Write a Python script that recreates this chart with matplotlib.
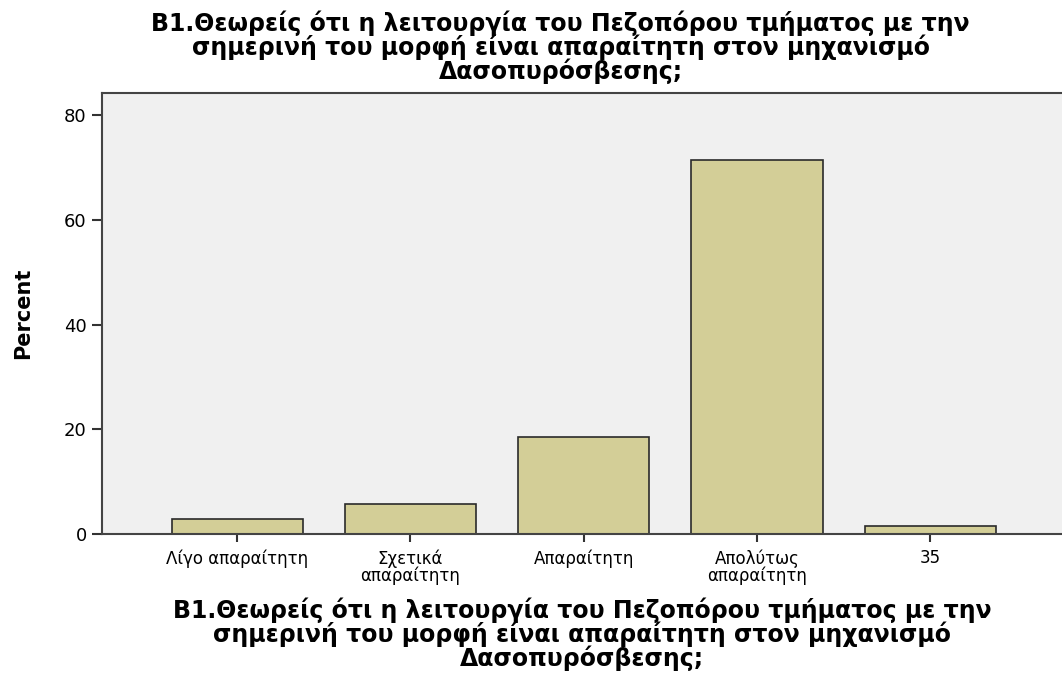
import matplotlib.pyplot as plt

categories = ['Λίγο απαραίτητη', 'Σχετικά\nαπαραίτητη', 'Απαραίτητη',
              'Απολύτως\nαπαραίτητη', '35']
percent = [2.86, 5.71, 18.57, 71.43, 1.43]
yticks = [0, 20, 40, 60, 80]
title = ('B1.Θεωρείς ότι η λειτουργία του Πεζοπόρου τμήματος με την\n'
         'σημερινή του μορφή είναι απαραίτητη στον μηχανισμό\n'
         'Δασοπυρόσβεσης;')

plt.rcParams['font.family'] = ['DejaVu Sans']

fig = plt.figure(figsize=(10.62, 6.75), dpi=100)
ax = fig.add_axes([0.096, 0.209, 0.904, 0.653])
ax.set_facecolor('#F0F0F0')

x = range(len(categories))
ax.bar(x, percent, width=0.757, color='#D3CE97', edgecolor='#2a2a2a', linewidth=1.2)

ax.set_xlim(-0.78, 4.76)
ax.set_ylim(0, 84.2)
ax.set_xticks(list(x))
ax.set_xticklabels(categories, fontsize=12, linespacing=0.9)
ax.set_yticks(yticks)
ax.tick_params(axis='y', labelsize=13, length=7, width=1.5, color='#333333', pad=4)
ax.tick_params(axis='x', length=6, width=1.5, color='#333333', pad=5)
ax.spines['right'].set_visible(False)
for s in ['left', 'top', 'bottom']:
    ax.spines[s].set_color('#444444')
    ax.spines[s].set_linewidth(1.5)

ax.set_ylabel('Percent', fontsize=15, fontweight='bold')
ax.yaxis.set_label_coords(-0.072, 0.5)
ax.set_xlabel(title, fontsize=17, fontweight='bold', linespacing=0.93)
ax.xaxis.set_label_coords(0.5, -0.145)
fig.text(0.528, 0.985, title, fontsize=17, fontweight='bold', linespacing=0.93,
         ha='center', va='top', multialignment='center')

fig.savefig('out.png', dpi=100)
